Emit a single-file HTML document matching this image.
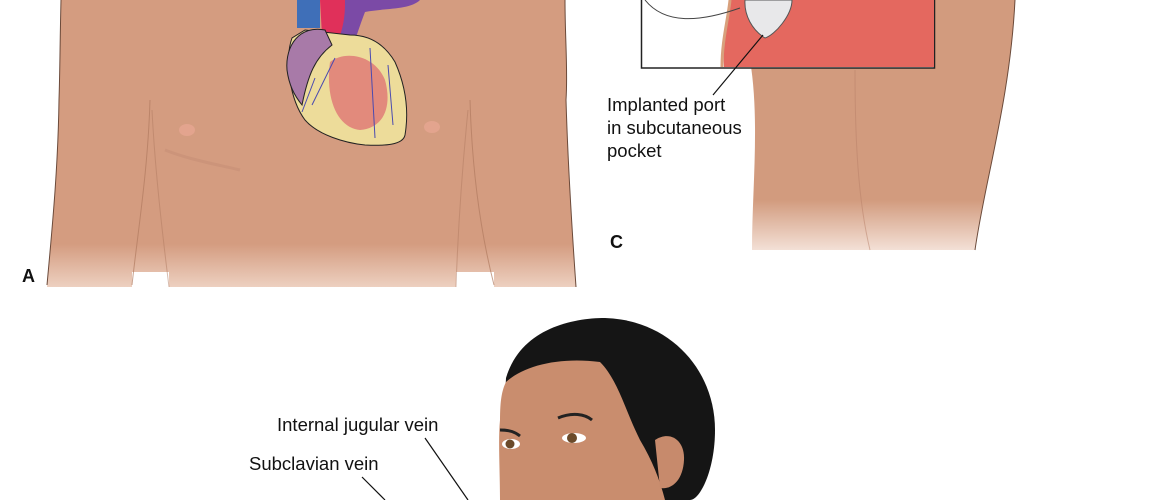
<!DOCTYPE html>
<html><head><meta charset="utf-8"><style>
html,body{margin:0;padding:0;background:#fff;}
svg{display:block}
text{font-family:"Liberation Sans",Arial,sans-serif;fill:#111}
</style></head><body>
<svg width="1170" height="500" viewBox="0 0 1170 500" xmlns="http://www.w3.org/2000/svg">
<defs>
<linearGradient id="fadeA" x1="0" y1="0" x2="0" y2="1">
<stop offset="0.85" stop-color="#d49c80"/><stop offset="1" stop-color="#edd0c0"/></linearGradient>
<linearGradient id="fadeC" x1="0" y1="0" x2="0" y2="1">
<stop offset="0.8" stop-color="#d29b7e"/><stop offset="1" stop-color="#f3e0d6"/></linearGradient>
</defs>
<!-- Torso A -->
<path d="M61 0 L565 0 C565 40 568 70 566 100 C568 170 572 230 576 287 L47 287 C52 230 58 170 59 100 C60 70 60 40 61 0 Z" fill="url(#fadeA)"/>
<rect x="132" y="272" width="37" height="18" fill="#fff"/>
<rect x="456" y="272" width="38" height="18" fill="#fff"/>
<path d="M61 0 C60 40 60 70 59 100 C58 170 52 230 47 285" fill="none" stroke="#6b4a3a" stroke-width="1"/>
<path d="M565 0 C565 40 568 70 566 100 C568 170 572 230 576 287" fill="none" stroke="#6b4a3a" stroke-width="1"/>
<path d="M150 100 C148 170 138 230 132 285" fill="none" stroke="#b07a60" stroke-width="1" opacity=".7"/>
<path d="M152 110 C155 170 162 230 169 287" fill="none" stroke="#b07a60" stroke-width="1" opacity=".5"/>
<path d="M470 100 C472 170 480 230 494 285" fill="none" stroke="#b07a60" stroke-width="1" opacity=".7"/>
<path d="M468 110 C462 170 458 230 456 287" fill="none" stroke="#b07a60" stroke-width="1" opacity=".5"/>
<path d="M165 150 C190 160 220 165 240 170" fill="none" stroke="#c08a70" stroke-width="3" opacity=".4"/>
<ellipse cx="187" cy="130" rx="8" ry="6" fill="#e3a48e"/>
<ellipse cx="432" cy="127" rx="8" ry="6" fill="#e3a48e"/>
<!-- heart -->
<path d="M297 0 L320 0 L320 28 L297 28 Z" fill="#3f6fb8"/>
<path d="M320 0 L350 0 C352 12 345 25 340 35 L322 35 Z" fill="#e0305a"/>
<path d="M345 0 L420 0 C410 10 385 8 365 12 C360 25 358 32 355 40 L340 36 C345 20 345 10 345 0 Z" fill="#7b4aa6"/>
<path d="M292 38 C284 60 290 100 305 120 C318 135 345 143 365 145 C385 146 403 145 405 135 C410 105 403 80 395 62 C385 45 370 35 350 35 L305 30 Z" fill="#eddc9a" stroke="#222" stroke-width="1"/>
<path d="M325 30 C300 25 285 45 287 70 C289 85 294 95 302 105 C308 75 315 58 332 45 Z" fill="#a87aa8" stroke="#222" stroke-width="1"/>
<path d="M330 62 C345 50 375 55 385 80 C392 105 385 128 360 130 C338 128 325 100 330 62 Z" fill="#e28a7c"/>
<path d="M335 58 L312 105 M370 48 L375 138 M388 65 L393 125 M315 78 L302 112" stroke="#4a4ab0" stroke-width="1" fill="none"/>
<text x="22" y="282" font-size="18" font-weight="bold">A</text>
<!-- Panel C back -->
<path d="M750 60 C760 120 752 190 752 250 L975 250 C985 180 1010 100 1015 0 L755 0 Z" fill="url(#fadeC)"/>
<path d="M1015 0 C1010 100 985 180 975 250" fill="none" stroke="#6b4a3a" stroke-width="1"/>
<path d="M855 70 C855 140 858 200 870 250" fill="none" stroke="#b88068" stroke-width="1" opacity=".5"/>
<rect x="641.5" y="-2" width="293" height="70" fill="#fff" stroke="#222" stroke-width="1.5"/>
<path d="M730 0 L934 0 L934 67 L724 67 C722 40 728 20 730 0 Z" fill="#e4685f"/>
<path d="M730 0 C728 20 722 40 722 67" fill="none" stroke="#d8a07c" stroke-width="3"/>
<path d="M745 0 L792 0 C792 15 775 35 765 38 C752 30 744 15 745 0 Z" fill="#e8e8ea" stroke="#555" stroke-width="1"/>
<path d="M645 0 C665 25 700 22 740 8" fill="none" stroke="#444" stroke-width="1"/>
<line x1="763" y1="35" x2="713" y2="95" stroke="#111" stroke-width="1.2"/>
<text x="607" y="111" font-size="18.5">Implanted port</text>
<text x="607" y="134" font-size="18.5">in subcutaneous</text>
<text x="607" y="157" font-size="18.5">pocket</text>
<text x="610" y="248" font-size="18" font-weight="bold">C</text>
<!-- Head B -->
<path d="M506 378 C520 330 570 318 605 318 C670 320 715 370 715 430 C715 470 700 500 690 500 L500 500 Z" fill="#151515"/>
<path d="M506 382 C525 365 560 357 600 362 C618 380 625 410 640 440 C652 460 660 480 665 500 L500 500 C500 470 498 440 500 420 C500 400 502 390 506 382 Z" fill="#c98d6e"/>
<path d="M655 440 C670 430 685 440 684 460 C683 480 672 490 660 488 Z" fill="#c78a6c"/>
<path d="M558 418 C572 412 585 414 592 420" stroke="#222" stroke-width="3" fill="none"/>
<path d="M500 430 C510 430 515 432 520 436" stroke="#222" stroke-width="3" fill="none"/>
<ellipse cx="574" cy="438" rx="12" ry="5" fill="#fff"/>
<circle cx="572" cy="438" r="5" fill="#6b4a2a"/>
<ellipse cx="511" cy="444" rx="9" ry="5" fill="#fff"/>
<circle cx="510" cy="444" r="4.5" fill="#6b4a2a"/>
<text x="277" y="431" font-size="18.5">Internal jugular vein</text>
<line x1="425" y1="438" x2="468" y2="500" stroke="#111" stroke-width="1.2"/>
<text x="249" y="470" font-size="18.5">Subclavian vein</text>
<line x1="362" y1="477" x2="385" y2="500" stroke="#111" stroke-width="1.2"/>
</svg>
</body></html>
